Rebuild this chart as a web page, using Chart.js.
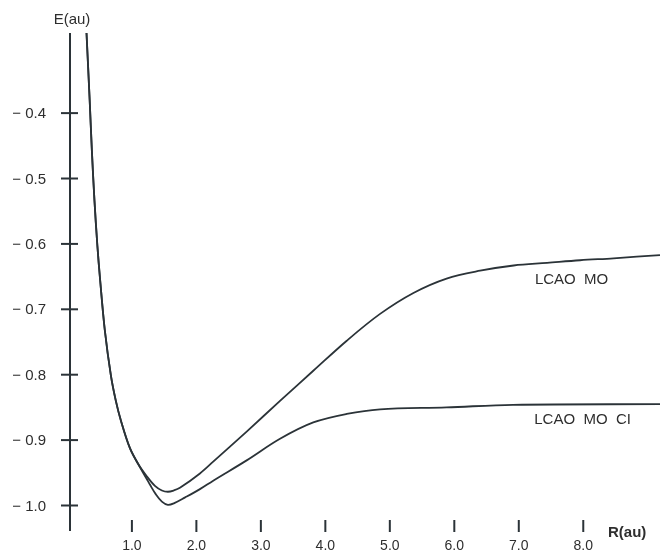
<!DOCTYPE html>
<html>
<head>
<meta charset="utf-8">
<script src="https://cdn.jsdelivr.net/npm/chart.js@4.4.0/dist/chart.umd.min.js"></script>
<style>
  html, body { margin: 0; padding: 0; background: #fff; }
  #wrap { width: 660px; height: 554px; position: relative; }
</style>
</head>
<body>
<div id="wrap"><canvas id="chart"></canvas></div>
<script>
// ── Data ──────────────────────────────────────────────────────────────────────
// shared repulsive wall, both curves run together until R ~ 1.1
const wallR = [0.296, 0.345, 0.379, 0.419, 0.464, 0.508, 0.580, 0.674, 0.751, 0.829, 0.968, 1.10];
const wallE = [-0.2775, -0.380, -0.457, -0.533, -0.602, -0.656, -0.732, -0.801, -0.840, -0.870, -0.912, -0.937];

const moR = [1.228, 1.357, 1.465, 1.558, 1.651, 1.745, 2.055, 2.261, 2.780, 3.297, 3.813, 4.332, 4.849, 5.366, 5.88, 6.40, 6.92, 7.44, 7.95, 8.47, 9.19];
const moE = [-0.955, -0.970, -0.977, -0.979, -0.977, -0.973, -0.951, -0.933, -0.887, -0.840, -0.794, -0.748, -0.707, -0.675, -0.653, -0.641, -0.633, -0.629, -0.625, -0.622, -0.617];

const ciR = [1.228, 1.279, 1.372, 1.465, 1.558, 1.665, 1.820, 2.055, 2.261, 2.780, 3.297, 3.813, 4.332, 4.849, 5.88, 6.91, 9.19];
const ciE = [-0.959, -0.968, -0.983, -0.994, -0.999, -0.996, -0.988, -0.975, -0.962, -0.931, -0.898, -0.873, -0.860, -0.853, -0.850, -0.846, -0.845];

const xTicks = [1, 2, 3, 4, 5, 6, 7, 8];
const xTickLabels = ['1.0', '2.0', '3.0', '4.0', '5.0', '6.0', '7.0', '8.0'];
const yTicks = [-0.4, -0.5, -0.6, -0.7, -0.8, -0.9, -1.0];
const yTickLabels = ['− 0.4', '− 0.5', '− 0.6', '− 0.7', '− 0.8', '− 0.9', '− 1.0'];

const curveLabels = [
    { text: 'LCAO  MO', r: 7.25, e: -0.655 },
    { text: 'LCAO  MO  CI', r: 7.24, e: -0.869 }
];

const INK = '#2b3338';
const TXT = '#2e2e2e';
const FONT = "'Liberation Sans', Arial, sans-serif";

const toPts = (xs, ys) => xs.map((x, i) => ({ x, y: ys[i] }));

// ── Axis decoration plugin ────────────────────────────────────────────────────
const axesPlugin = {
    id: 'handAxes',
    afterDraw(chart) {
        const { ctx, chartArea: a, scales: { x, y } } = chart;
        ctx.save();
        ctx.strokeStyle = INK;
        ctx.fillStyle = TXT;

        // y axis line
        const ax = x.getPixelForValue(x.min);
        ctx.lineWidth = 2;
        ctx.beginPath();
        ctx.moveTo(ax, a.top);
        ctx.lineTo(ax, a.bottom);
        ctx.stroke();

        // y ticks crossing the axis
        ctx.font = `15px ${FONT}`;
        ctx.textAlign = 'right';
        ctx.textBaseline = 'middle';
        yTicks.forEach((v, i) => {
            const py = y.getPixelForValue(v);
            ctx.beginPath();
            ctx.moveTo(ax - 9, py);
            ctx.lineTo(ax + 8, py);
            ctx.stroke();
            ctx.fillText(yTickLabels[i], ax - 24, py + 1);
        });

        // x ticks at the bottom (no axis line)
        ctx.font = `14px ${FONT}`;
        ctx.textAlign = 'center';
        xTicks.forEach((v, i) => {
            const px = x.getPixelForValue(v);
            ctx.beginPath();
            ctx.moveTo(px, a.bottom - 11);
            ctx.lineTo(px, a.bottom + 1);
            ctx.stroke();
            ctx.fillText(xTickLabels[i], px, a.bottom + 15);
        });

        // axis titles
        ctx.font = `15px ${FONT}`;
        ctx.textAlign = 'center';
        ctx.fillText('E(au)', ax + 2, 20);
        ctx.font = `bold 15px ${FONT}`;
        ctx.textAlign = 'left';
        ctx.fillText('R(au)', 608, a.bottom + 2);

        // curve labels
        ctx.font = `15px ${FONT}`;
        curveLabels.forEach(l => {
            ctx.fillText(l.text, x.getPixelForValue(l.r), y.getPixelForValue(l.e));
        });
        ctx.restore();
    }
};

// ── Chart ─────────────────────────────────────────────────────────────────────
new Chart(document.getElementById('chart'), {
    type: 'scatter',
    data: {
        datasets: [
            { label: 'LCAO MO', data: toPts(wallR.concat(moR), wallE.concat(moE)) },
            { label: 'LCAO MO CI', data: toPts(wallR.concat(ciR), wallE.concat(ciE)) }
        ].map(d => ({
            ...d,
            showLine: true,
            borderColor: INK,
            borderWidth: 1.8,
            pointRadius: 0,
            tension: 0.35
        }))
    },
    options: {
        responsive: true, maintainAspectRatio: false,
        animation: false,
        events: [],
        layout: { padding: { left: 70, right: 0, top: 33, bottom: 23 } },
        plugins: { legend: { display: false }, tooltip: { enabled: false } },
        scales: {
            x: { type: 'linear', min: 0.04, max: 9.19, display: false },
            y: { type: 'linear', min: -1.039, max: -0.2775, display: false }
        }
    },
    plugins: [axesPlugin]
});
</script>
</body>
</html>
